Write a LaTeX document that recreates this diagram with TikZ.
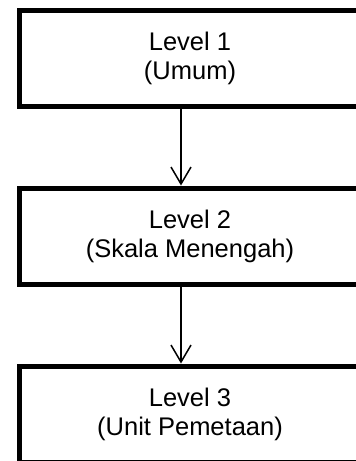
\documentclass[tikz,border=0pt]{standalone}
\usepackage{fontspec}
\setmainfont{Liberation Sans}
\usetikzlibrary{arrows.meta}
\tikzset{
  levelbox/.style={draw=black, line width=5pt, fill=white,
    minimum width=341pt, minimum height=96pt, align=center,
    font=\fontsize{25.5pt}{29pt}\selectfont, inner sep=0pt},
  flow/.style={line width=1.5pt, -{Straight Barb[length=17pt,width=20pt,line width=1.5pt]}}
}
\begin{document}
\begin{tikzpicture}[x=1pt,y=1pt]
  \useasboundingbox (0,0) rectangle (356,-461);
  \fill[white] (0,0) rectangle (356,-461);
  \node[levelbox] (l1) at (190,-58)  {Level 1\\(Umum)};
  \node[levelbox] (l2) at (190,-236) {Level 2\\(Skala Menengah)};
  \node[levelbox] (l3) at (190,-414) {Level 3\\(Unit Pemetaan)};
  \draw[flow] ([xshift=-9pt]l1.south) -- ([xshift=-9pt]l2.north);
  \draw[flow] ([xshift=-9pt]l2.south) -- ([xshift=-9pt]l3.north);
\end{tikzpicture}
\end{document}
